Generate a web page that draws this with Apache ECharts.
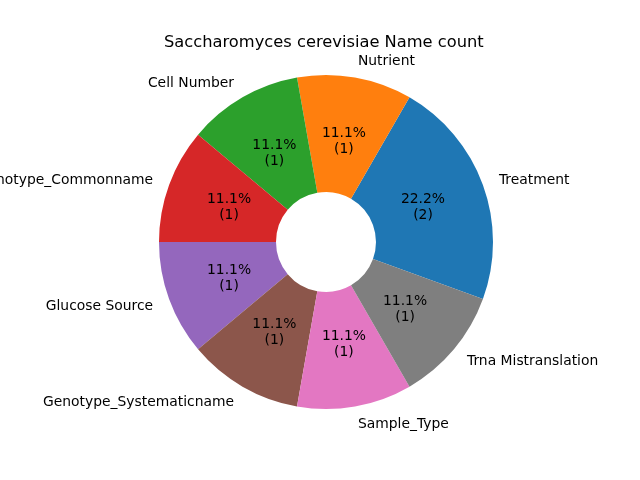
<!DOCTYPE html>
<html>
<head>
<meta charset="utf-8">
<script src="https://cdn.jsdelivr.net/npm/echarts@6/dist/echarts.min.js"></script>
<style>
html,body{margin:0;padding:0;background:#fff;}
#chart{width:640px;height:480px;}
</style>
</head>
<body>
<div id="chart"></div>
<script>
var titleText = 'Saccharomyces cerevisiae Name count';
var categories = ['Treatment', 'Nutrient', 'Cell Number', 'Genotype_Commonname', 'Glucose Source', 'Genotype_Systematicname', 'Sample_Type', 'Trna Mistranslation'];
var counts = [2, 1, 1, 1, 1, 1, 1, 1];
var colors = ['#1f77b4', '#ff7f0e', '#2ca02c', '#d62728', '#9467bd', '#8c564b', '#e377c2', '#7f7f7f'];

var total = counts.reduce(function (a, b) { return a + b; }, 0);
var FONT = 'DejaVu Sans';

var visibleData = categories.map(function (c, i) {
  return { name: c, value: counts[i], itemStyle: { color: colors[i] } };
});
var labelData = categories.map(function (c, i) {
  return { name: c, value: counts[i] };
});

var chart = echarts.init(document.getElementById('chart'), null, { renderer: 'canvas' });
chart.setOption({
  animation: false,
  backgroundColor: '#ffffff',
  title: {
    text: titleText,
    left: 159,
    top: 30,
    textStyle: { fontFamily: FONT, fontSize: 16.3, fontWeight: 'normal', color: '#000' }
  },
  series: [
    {
      type: 'pie',
      center: [326, 242],
      radius: [50, 167],
      startAngle: -20,
      clockwise: false,
      avoidLabelOverlap: false,
      silent: true,
      itemStyle: { borderWidth: 0 },
      label: {
        show: true,
        position: 'outside',
        distanceToLabelLine: 0,
        formatter: '{b}',
        fontFamily: FONT,
        fontSize: 13.89,
        color: '#000',
        offset: [0, 1]
      },
      labelLine: { show: false, length: 17, length2: 0 },
      data: visibleData
    },
    {
      type: 'pie',
      center: [326, 242],
      radius: [0, 200.4],
      startAngle: -20,
      clockwise: false,
      avoidLabelOverlap: false,
      silent: true,
      itemStyle: { color: 'rgba(0,0,0,0)', borderWidth: 0 },
      label: {
        show: true,
        position: 'inside',
        fontFamily: FONT,
        fontSize: 13.89,
        lineHeight: 16,
        color: '#000',
        align: 'center',
        offset: [0, 1],
        formatter: function (p) {
          return (p.value / total * 100).toFixed(1) + '%\n(' + p.value + ')';
        }
      },
      labelLine: { show: false },
      data: labelData
    }
  ]
});
</script>
</body>
</html>
